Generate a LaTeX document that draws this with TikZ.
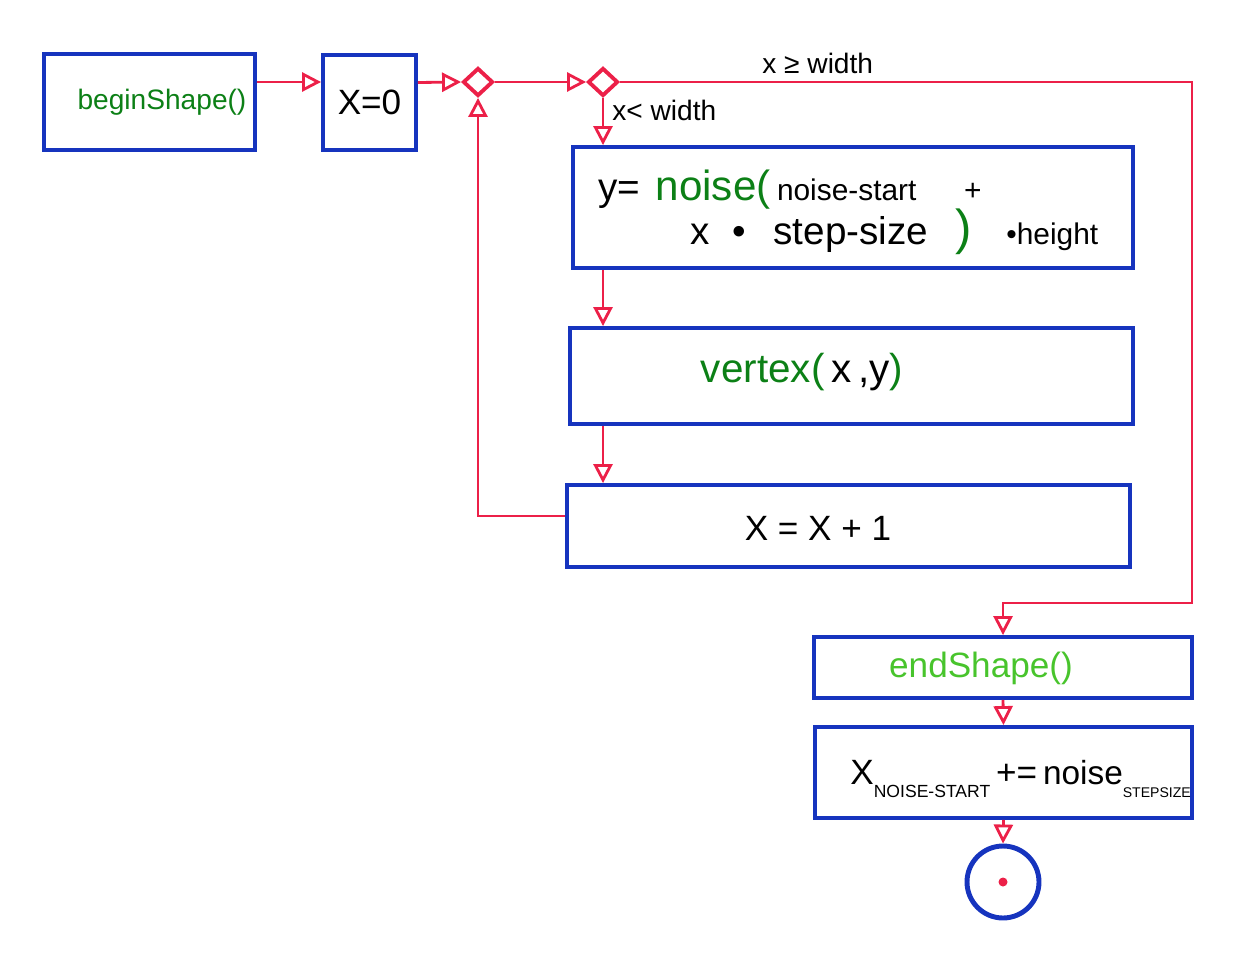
\documentclass[tikz,border=0pt]{standalone}
\usepackage{fontspec}
\setmainfont{Liberation Sans}
\usetikzlibrary{shapes.geometric, arrows.meta, positioning, calc}

\definecolor{penblue}{RGB}{22,52,190}
\definecolor{penred}{RGB}{236,32,72}
\definecolor{pengreen}{RGB}{12,128,22}
\definecolor{penlime}{RGB}{72,196,44}
\newcommand{\fs}[1]{\fontsize{#1}{#1}\selectfont}

\begin{document}
\begin{tikzpicture}[
      x=0.02cm, y=-0.02cm,
      box/.style={rectangle, draw=penblue, line width=2.2pt, inner sep=0pt,
                  align=center},
      txt/.style={inner sep=0pt, text=black},
      merge/.style={diamond, draw=penred, line width=2.2pt, minimum width=0.6cm,
                    minimum height=0.56cm, inner sep=0pt},
      endpt/.style={circle, draw=penblue, line width=2.8pt, minimum size=1.44cm,
                    inner sep=0pt},
      arr/.style={-{Triangle[open, length=3.8mm, width=3.8mm]}, draw=penred,
                  line width=1.6pt}
    ]
    \useasboundingbox (0,0) rectangle (1250,956);

    % Row 1: start
    \node[box, minimum width=4.22cm, minimum height=1.92cm] (begin) at (149.5,102) {};
    \node[txt, text=pengreen] (beginT) at (162,102) {\fs{16}beginShape()};
    \node[box, minimum width=1.86cm, minimum height=1.9cm] (xzero) at (369.5,102.5) {\fs{20}X=0};

    % Merge points and guards
    \node[merge] (d1) at (478,82) {};
    \node[merge] (d2) at (603,82) {};
    \node[txt, anchor=base west] (ge) at (762,74) {\fs{16}x ≥ width};
    \node[txt, anchor=base west] (lt) at (612,121) {\fs{16}x< width};

    % Loop body
    \node[box, minimum width=11.2cm, minimum height=2.42cm] (calc) at (853,207.5) {};
    \node[txt, anchor=base west] (calcA) at (598,200)
      {\fs{22}y=\hspace{0.4em}\textcolor{pengreen}{\fs{24}noise(}\,\fs{17}noise-start\hspace{1.6em}+};
    \node[txt, anchor=base west] (calcB) at (690,244)
      {\fs{22}x\hspace{0.6em}\textbullet\hspace{0.7em}step-size\hspace{0.7em}\textcolor{pengreen}{\fs{28})}\hspace{0.9em}\fs{17}\textbullet height};
    \node[box, minimum width=11.26cm, minimum height=1.92cm] (vert) at (851.5,376) {};
    \node[txt, anchor=base] (vertT) at (802,382)
      {\fs{23}\textcolor{pengreen}{vertex(}\,x\,,y\textcolor{pengreen}{)}};
    \node[box, minimum width=11.26cm, minimum height=1.64cm] (incr) at (848.5,526) {};
    \node[txt] (incrT) at (818,528) {\fs{20}X = X + 1};

    % After the loop
    \node[box, minimum width=7.56cm, minimum height=1.22cm] (endshape) at (1003,667.5) {};
    \node[txt, text=penlime] (endT) at (981,668) {\fs{20}endShape()};
    \node[box, minimum width=7.54cm, minimum height=1.82cm] (noiseup) at (1003.5,772.5) {};
    \node[txt, anchor=base west] (noiseT) at (850,784)
      {\fs{20}X\raisebox{-0.75ex}{\fs{10}NOISE-START}\,+=\,\fs{19}noise\raisebox{-0.75ex}{\fs{8}STEPSIZE}};
    \node[endpt] (stop) at (1003,882) {};
    \fill[penred] (stop.center) circle (0.09cm);

    \coordinate (turn) at (1192,603);

    % Arrows
    \draw[arr] ([yshift=0.4cm]begin.east) -- ([yshift=0.4cm]begin.east -| xzero.west);
    \draw[arr] ([yshift=0.4cm]xzero.east) -- (d1.west);
    \draw[arr] (d1.east) -- (d2.west);
    \draw[arr] (d2.south) -- (d2.south |- calc.north);
    \draw[arr] (d2.south |- calc.south) -- (d2.south |- vert.north);
    \draw[arr] (d2.south |- vert.south) -- (d2.south |- incr.north);
    \draw[arr] ([yshift=0.2cm]incr.west) -| (d1.south);
    \draw[arr] (d2.east) -| (turn) -| (endshape.north);
    \draw[arr] (endshape.south) -- (noiseup.north);
    \draw[arr] (noiseup.south) -- (stop.north);
  \end{tikzpicture}
\end{document}
